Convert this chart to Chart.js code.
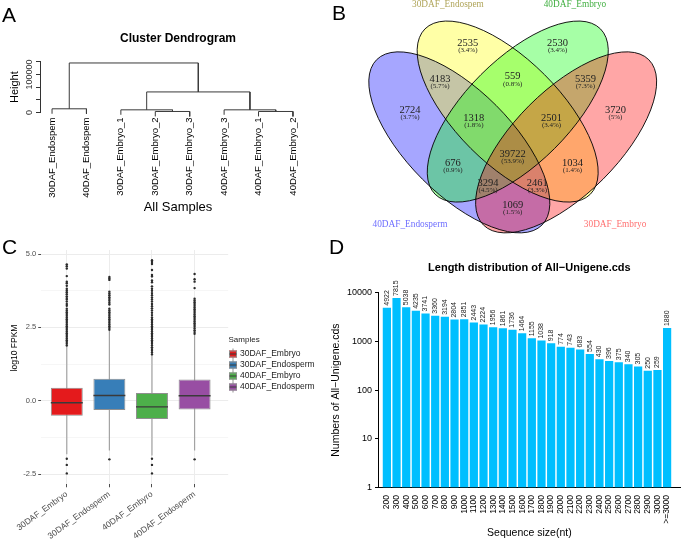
<!DOCTYPE html>
<html>
<head>
<meta charset="utf-8">
<script src="https://cdn.jsdelivr.net/npm/chart.js@4.4.0/dist/chart.umd.min.js"></script>
<style>
  html, body { margin: 0; padding: 0; background: #fff; }
  body { width: 685px; height: 539px; position: relative; overflow: hidden; font-family: "Liberation Sans", Arial, sans-serif; }
  .panel { position: absolute; }
  .tag { position: absolute; font-size: 21px; line-height: 1; color: #000; }
</style>
</head>
<body>
<div class="panel" style="left:0;top:0;width:330px;height:225px"><canvas id="dendro"></canvas></div>
<div class="panel" style="left:330px;top:0;width:355px;height:236px"><canvas id="venn"></canvas></div>
<div class="panel" style="left:0;top:230px;width:330px;height:309px"><canvas id="boxes"></canvas></div>
<div class="panel" style="left:330px;top:240px;width:355px;height:299px"><canvas id="lengths"></canvas></div>
<div class="tag" style="left:2px;top:4px">A</div>
<div class="tag" style="left:332px;top:2px">B</div>
<div class="tag" style="left:2px;top:236px">C</div>
<div class="tag" style="left:329px;top:236px">D</div>
<script>
// ---- A: cluster dendrogram
const leafNames = ['30DAF_Endospem', '40DAF_Endospem', '30DAF_Embryo_1', '30DAF_Embryo_2', '30DAF_Embryo_3', '40DAF_Embryo_3', '40DAF_Embryo_1', '40DAF_Embryo_2'];
// hclust style merges: negative = leaf (plot order), positive = earlier merge
const mergePairs = [[-4, -5], [-7, -8], [-3, 1], [-6, 2], [-1, -2], [3, 4], [5, 6]];
const mergeHeights = [2700, 2700, 7000, 7000, 9700, 54000, 130000];
const heightTicks = [0, 33333, 66667, 100000, 133333];
const heightLabels = ['0', '', '', '100000', ''];

// ---- B: venn counts
const vennSets = ['40DAF_Endosperm', '30DAF_Endospem', '40DAF_Embryo', '30DAF_Embryo'];
const vennCounts = [2535, 2530, 4183, 559, 5359, 2724, 3720, 1318, 2501, 39722, 676, 1034, 3294, 2461, 1069];

// ---- C: log10 FPKM box stats
const sampleNames = ['30DAF_Embryo', '30DAF_Endosperm', '40DAF_Embyro', '40DAF_Endosperm'];
const boxQ1 = [-0.51, -0.32, -0.62, -0.30];
const boxMedian = [-0.07, 0.18, -0.21, 0.17];
const boxQ3 = [0.44, 0.75, 0.26, 0.72];
const whiskerLow = [-1.83, -1.70, -1.87, -1.70];
const whiskerHigh = [1.85, 2.38, 1.54, 2.24];
const outliers = [
  [1.88, 1.94, 2.00, 2.06, 2.12, 2.18, 2.24, 2.30, 2.36, 2.42, 2.48, 2.54, 2.60, 2.66, 2.72, 2.78, 2.84, 2.90, 2.96, 3.02, 3.08, 3.14,
   3.24, 3.30, 3.38, 3.45, 3.50, 3.56, 3.63, 3.70, 3.76, 3.82, 3.92, 4.01, 4.06, 4.25, 4.51, 4.59, 4.65, -1.98, -2.19, -2.48],
  [2.42, 2.48, 2.54, 2.60, 2.66, 2.72, 2.78, 2.84, 2.90, 2.96, 3.02, 3.08, 3.14,
   3.28, 3.34, 3.41, 3.47, 3.53, 3.60, 3.66, 3.72, 4.12, 4.17, 4.22, -2.0],
  [1.58, 1.64, 1.70, 1.76, 1.82, 1.88, 1.94, 2.00, 2.06, 2.12, 2.18, 2.24, 2.30, 2.36, 2.42, 2.48, 2.54, 2.60, 2.66, 2.72, 2.78, 2.84,
   2.92, 3.00, 3.08, 3.15, 3.22, 3.30, 3.38, 3.45, 3.52, 3.60, 3.67, 3.75, 3.82, 3.90, 4.04, 4.10, 4.24, 4.29, 4.46, 4.66, 4.73, 4.79,
   -1.98, -2.19, -2.48],
  [2.28, 2.34, 2.40, 2.46, 2.52, 2.58, 2.64, 2.70, 2.76, 2.82, 2.88, 2.94, 3.00, 3.06, 3.12, 3.18, 3.24, 3.30, 3.36, 3.42, 3.48,
   3.84, 4.06, 4.14, 4.32, -2.0]
];
const fpkmTicks = [-2.5, -1.25, 0, 1.25, 2.5, 3.75, 5.0];

// ---- D: length distribution
const sizeLabels = ['200', '300', '400', '500', '600', '700', '800', '900', '1000', '1100', '1200', '1300', '1400', '1500', '1600',
  '1700', '1800', '1900', '2000', '2100', '2200', '2300', '2400', '2500', '2600', '2700', '2800', '2900', '3000', '>=3000'];
const sizeCounts = [4922, 7815, 5038, 4235, 3741, 3360, 3194, 2804, 2851, 2443, 2224, 1956, 1861, 1736, 1464,
  1155, 1038, 918, 774, 743, 683, 554, 430, 396, 375, 340, 305, 250, 259, 1880];
const countTicks = [1, 10, 100, 1000, 10000];

const sans = '"Liberation Sans", Arial, Helvetica, sans-serif';
const serif = '"Liberation Serif", "Times New Roman", serif';
Chart.defaults.font.family = sans;
Chart.defaults.color = '#000';
Chart.defaults.animation = false;
Chart.defaults.responsive = true;
Chart.defaults.maintainAspectRatio = false;
Chart.defaults.events = [];
Chart.defaults.plugins.legend.display = false;
Chart.defaults.plugins.tooltip.enabled = false;

// ---------------- A
function dendroSegments() {
  const hang = 0.1 * Math.max(...mergeHeights);
  const nodeX = [], nodeY = [], segs = [];
  mergePairs.forEach((pair, i) => {
    const h = mergeHeights[i];
    const ends = pair.map(k => k < 0 ? { x: -k, y: h - hang } : { x: nodeX[k - 1], y: nodeY[k - 1] });
    segs.push([ends[0], { x: ends[0].x, y: h }, { x: ends[1].x, y: h }, ends[1]]);
    nodeX[i] = (ends[0].x + ends[1].x) / 2;
    nodeY[i] = h;
  });
  return segs;
}

// R style axis labels, rotated along the axis
const heightAxisLabels = {
  id: 'heightAxisLabels',
  afterDraw(chart) {
    const sc = chart.scales.y, ctx = chart.ctx;
    ctx.save();
    ctx.font = '9px ' + sans;
    ctx.fillStyle = '#333';
    ctx.textAlign = 'center';
    ctx.textBaseline = 'middle';
    heightTicks.forEach((v, i) => {
      if (!heightLabels[i]) return;
      ctx.save();
      ctx.translate(sc.right - 10, sc.getPixelForValue(v));
      ctx.rotate(-Math.PI / 2);
      ctx.fillText(heightLabels[i], 0, 0);
      ctx.restore();
    });
    ctx.restore();
  }
};

new Chart(document.getElementById('dendro'), {
  type: 'scatter',
  data: {
    datasets: dendroSegments().map(seg => ({
      data: seg, showLine: true, borderColor: '#3a3a3a', borderWidth: 1, pointRadius: 0, clip: false
    }))
  },
  options: {
    layout: { padding: { left: 0, right: 14, top: 0, bottom: 0 } },
    plugins: {
      title: { display: true, text: 'Cluster Dendrogram', fullSize: false, color: '#000',
        font: { size: 12, weight: 'bold' }, padding: { top: 31.8, bottom: 15.5 } }
    },
    scales: {
      x: {
        type: 'linear', min: 0.65, max: 8.67,
        afterBuildTicks: sc => { sc.ticks = leafNames.map((_, i) => ({ value: i + 1 })); },
        grid: { display: false, drawTicks: false }, border: { display: false },
        ticks: { autoSkip: false, minRotation: 90, maxRotation: 90, padding: 5, color: '#000',
          font: { size: 9.5 }, callback: v => leafNames[v - 1] },
        title: { display: true, text: 'All Samples', color: '#000', font: { size: 13 }, padding: { top: 3.6, bottom: 10.2 } }
      },
      y: {
        min: 0, max: 133333,
        afterBuildTicks: sc => { sc.ticks = heightTicks.map(v => ({ value: v })); },
        grid: { drawOnChartArea: false, tickLength: 4, color: '#333' },
        border: { display: true, color: '#333' },
        ticks: { display: false },
        title: { display: true, text: 'Height', color: '#000', font: { size: 11 }, padding: { top: 8.4, bottom: 14.4 } }
      }
    }
  },
  plugins: [heightAxisLabels]
});

// ---------------- B
const vennTotal = vennCounts.reduce((a, b) => a + b, 0);
const vennLabelAt = [[0.358, 0.783], [0.642, 0.783], [0.270, 0.669], [0.5, 0.678], [0.730, 0.669],
  [0.175, 0.571], [0.825, 0.571], [0.377, 0.546], [0.623, 0.546], [0.5, 0.432],
  [0.311, 0.403], [0.689, 0.403], [0.422, 0.340], [0.578, 0.340], [0.5, 0.270]];
const vennShapes = [
  { cx: 0.331, cy: 0.4685, tilt: Math.PI / 4, fill: 'rgba(0,0,255,0.35)' },
  { cx: 0.484, cy: 0.566, tilt: Math.PI / 4, fill: 'rgba(255,255,0,0.35)' },
  { cx: 0.516, cy: 0.566, tilt: -Math.PI / 4, fill: 'rgba(0,255,0,0.35)' },
  { cx: 0.669, cy: 0.4685, tilt: -Math.PI / 4, fill: 'rgba(255,0,0,0.35)' }
];
const vennAxes = { a: 0.370, b: 0.165 };
const vennCatAt = [[0.175, 0.207], [0.295, 0.905], [0.697, 0.905], [0.824, 0.207]];
const vennCatColor = ['#6f6fff', '#b0a55a', '#3fae3f', '#ff6f6f'];

const vennDraw = {
  id: 'vennDraw',
  beforeDatasetsDraw(chart) {
    const { ctx, scales: { x, y } } = chart;
    const unit = x.getPixelForValue(1) - x.getPixelForValue(0);
    const path = s => {
      ctx.beginPath();
      ctx.ellipse(x.getPixelForValue(s.cx), y.getPixelForValue(s.cy), vennAxes.a * unit, vennAxes.b * unit, s.tilt, 0, Math.PI * 2);
    };
    ctx.save();
    vennShapes.forEach(s => { path(s); ctx.fillStyle = s.fill; ctx.fill(); });
    ctx.lineWidth = 0.9;
    ctx.strokeStyle = '#000';
    vennShapes.forEach(s => { path(s); ctx.stroke(); });
    ctx.restore();
  },
  afterDatasetsDraw(chart) {
    const { ctx, scales: { x, y } } = chart;
    ctx.save();
    ctx.textAlign = 'center';
    ctx.textBaseline = 'middle';
    ctx.fillStyle = '#222';
    chart.getDatasetMeta(0).data.forEach((pt, i) => {
      const v = vennCounts[i];
      const pct = Math.round(v / vennTotal * 1000) / 10;
      ctx.font = '10.5px ' + serif;
      ctx.fillText(String(v), pt.x, pt.y);
      ctx.font = '7px ' + serif;
      ctx.fillText('(' + pct + '%)', pt.x, pt.y + 7.5);
    });
    ctx.font = '9.3px ' + serif;
    vennSets.forEach((name, i) => {
      ctx.fillStyle = vennCatColor[i];
      ctx.fillText(name, x.getPixelForValue(vennCatAt[i][0]), y.getPixelForValue(vennCatAt[i][1]));
    });
    ctx.restore();
  }
};

new Chart(document.getElementById('venn'), {
  type: 'scatter',
  data: { datasets: [{ data: vennLabelAt.map(p => ({ x: p[0], y: p[1] })), pointRadius: 0 }] },
  options: {
    layout: { padding: 0 },
    scales: {
      x: { display: false, min: -0.0782, max: 1.0452 },
      y: { display: false, min: 0.1722, max: 0.919 }
    }
  },
  plugins: [vennDraw]
});

// ---------------- C
const boxFill = ['#e41a1c', '#377eb8', '#4daf4a', '#984ea3'];
const isMajor = v => Math.abs(v / 2.5 - Math.round(v / 2.5)) < 1e-6;
const boxSets = [];
sampleNames.forEach((name, i) => {
  boxSets.push({ type: 'bar', label: name, data: [{ x: i + 1, y: [boxQ1[i], boxQ3[i]] }],
    backgroundColor: boxFill[i], borderColor: '#8f8f8f', borderWidth: 1, borderSkipped: false,
    grouped: false, barPercentage: 0.75, categoryPercentage: 1, order: 2 });
});
sampleNames.forEach((name, i) => {
  boxSets.push({ type: 'bar', data: [{ x: i + 1, y: [boxMedian[i] - 0.025, boxMedian[i] + 0.025] }],
    backgroundColor: '#3a3a3a', borderWidth: 0, grouped: false, barPercentage: 0.75, categoryPercentage: 1, order: 1 });
  boxSets.push({ type: 'line', data: [{ x: i + 1, y: whiskerLow[i] }, { x: i + 1, y: whiskerHigh[i] }],
    borderColor: '#a3a3a3', borderWidth: 1.2, pointRadius: 0, order: 3 });
  boxSets.push({ type: 'scatter', data: outliers[i].map(v => ({ x: i + 1, y: v })),
    pointRadius: 1.2, pointBackgroundColor: '#2b2b2b', pointBorderWidth: 0, order: 0 });
});

// ggplot style key (box with median and whisker stubs) plus the y title
const sampleLegend = {
  id: 'sampleLegend',
  afterDraw(chart) {
    const ctx = chart.ctx;
    const x0 = chart.chartArea.right + 0.8;
    const titleY = 110, rowY = 124, rowStep = 11;
    ctx.save();
    ctx.textBaseline = 'middle';
    ctx.textAlign = 'left';
    ctx.fillStyle = '#1a1a1a';
    ctx.font = '8px ' + sans;
    ctx.fillText('Samples', x0 - 0.5, titleY);
    ctx.font = '8.5px ' + sans;
    sampleNames.forEach((name, i) => {
      const cy = rowY + i * rowStep;
      ctx.strokeStyle = '#8f8f8f';
      ctx.lineWidth = 1;
      ctx.beginPath();
      ctx.moveTo(x0 + 4, cy - 5.5); ctx.lineTo(x0 + 4, cy + 5.5);
      ctx.stroke();
      ctx.fillStyle = boxFill[i];
      ctx.fillRect(x0, cy - 3.5, 8, 7);
      ctx.strokeRect(x0 + 0.5, cy - 3, 7, 6);
      ctx.strokeStyle = '#3a3a3a';
      ctx.beginPath();
      ctx.moveTo(x0 + 0.5, cy); ctx.lineTo(x0 + 7.5, cy);
      ctx.stroke();
      ctx.fillStyle = '#1a1a1a';
      ctx.fillText(name, x0 + 11, cy);
    });
    ctx.save();
    ctx.translate(15, 118);
    ctx.rotate(-Math.PI / 2);
    ctx.textAlign = 'center';
    ctx.fillStyle = '#000';
    ctx.font = '8.5px ' + sans;
    ctx.fillText('log10 FPKM', 0, 0);
    ctx.restore();
    ctx.restore();
  }
};

new Chart(document.getElementById('boxes'), {
  type: 'bar',
  data: { datasets: boxSets },
  options: {
    layout: { padding: { left: 21.3, right: 101.8, top: 20, bottom: -4.4 } },
    scales: {
      x: {
        type: 'linear', min: 0.4, max: 4.789, offset: false,
        afterBuildTicks: sc => { sc.ticks = sampleNames.map((_, i) => ({ value: i + 1 })); },
        grid: { offset: false, color: '#ececec', tickColor: '#4d4d4d', tickLength: 3 },
        border: { display: false },
        ticks: { autoSkip: false, minRotation: 36, maxRotation: 36, padding: 2, color: '#4d4d4d',
          font: { size: 8.5 }, callback: v => sampleNames[v - 1] }
      },
      y: {
        min: -2.85, max: 5.14,
        afterBuildTicks: sc => { sc.ticks = fpkmTicks.map(v => ({ value: v })); },
        grid: {
          color: c => isMajor(c.tick.value) ? '#ececec' : '#f6f6f6',
          tickColor: c => isMajor(c.tick.value) ? '#4d4d4d' : 'rgba(0,0,0,0)', tickLength: 3
        },
        border: { display: false },
        ticks: { padding: 2, color: '#4d4d4d', font: { size: 7.5 }, callback: v => isMajor(v) ? v.toFixed(1) : '' }
      }
    }
  },
  plugins: [sampleLegend]
});

// ---------------- D
const barValueLabels = {
  id: 'barValueLabels',
  afterDatasetsDraw(chart) {
    const ctx = chart.ctx;
    ctx.save();
    ctx.font = '7px ' + sans;
    ctx.fillStyle = '#222';
    ctx.textAlign = 'left';
    ctx.textBaseline = 'middle';
    chart.getDatasetMeta(0).data.forEach((bar, i) => {
      ctx.save();
      ctx.translate(bar.x, bar.y - 2);
      ctx.rotate(-Math.PI / 2);
      ctx.fillText(String(sizeCounts[i]), 0, 0);
      ctx.restore();
    });
    ctx.restore();
  }
};

new Chart(document.getElementById('lengths'), {
  type: 'bar',
  data: {
    datasets: [{ data: sizeCounts.map((v, i) => ({ x: i, y: v })), backgroundColor: '#00bfff',
      barPercentage: 0.85, categoryPercentage: 1 }]
  },
  options: {
    layout: { padding: { left: 0, right: 2, top: 0, bottom: 0 } },
    plugins: {
      title: { display: true, text: 'Length distribution of All\u2212Unigene.cds', fullSize: false, color: '#000',
        font: { size: 11, weight: 'bold' }, padding: { top: 21.1, bottom: 18.4 } }
    },
    scales: {
      x: {
        type: 'linear', min: -0.916, max: 30.41, offset: false,
        afterBuildTicks: sc => { sc.ticks = sizeLabels.map((_, i) => ({ value: i })); },
        grid: { display: false, drawTicks: false, offset: false },
        border: { display: true, color: '#000' },
        ticks: { autoSkip: false, minRotation: 90, maxRotation: 90, padding: 7.5, color: '#000',
          font: { size: 8.5 }, callback: v => sizeLabels[v] },
        title: { display: true, text: 'Sequence size(nt)', color: '#000', font: { size: 10.5 }, padding: { top: -4.3, bottom: -0.6 } }
      },
      y: {
        type: 'logarithmic', min: 1, max: 10000,
        afterBuildTicks: sc => { sc.ticks = countTicks.map(v => ({ value: v })); },
        grid: { drawOnChartArea: false, tickLength: 3, color: '#000' },
        border: { display: true, color: '#000' },
        ticks: { padding: 3, color: '#000', font: { size: 9 }, callback: v => String(v) },
        title: { display: true, text: 'Numbers of All\u2212Unigene.cds', color: '#000', font: { size: 10.5 }, padding: { top: 0, bottom: 1.4 } }
      }
    }
  },
  plugins: [barValueLabels]
});
</script>
</body>
</html>
